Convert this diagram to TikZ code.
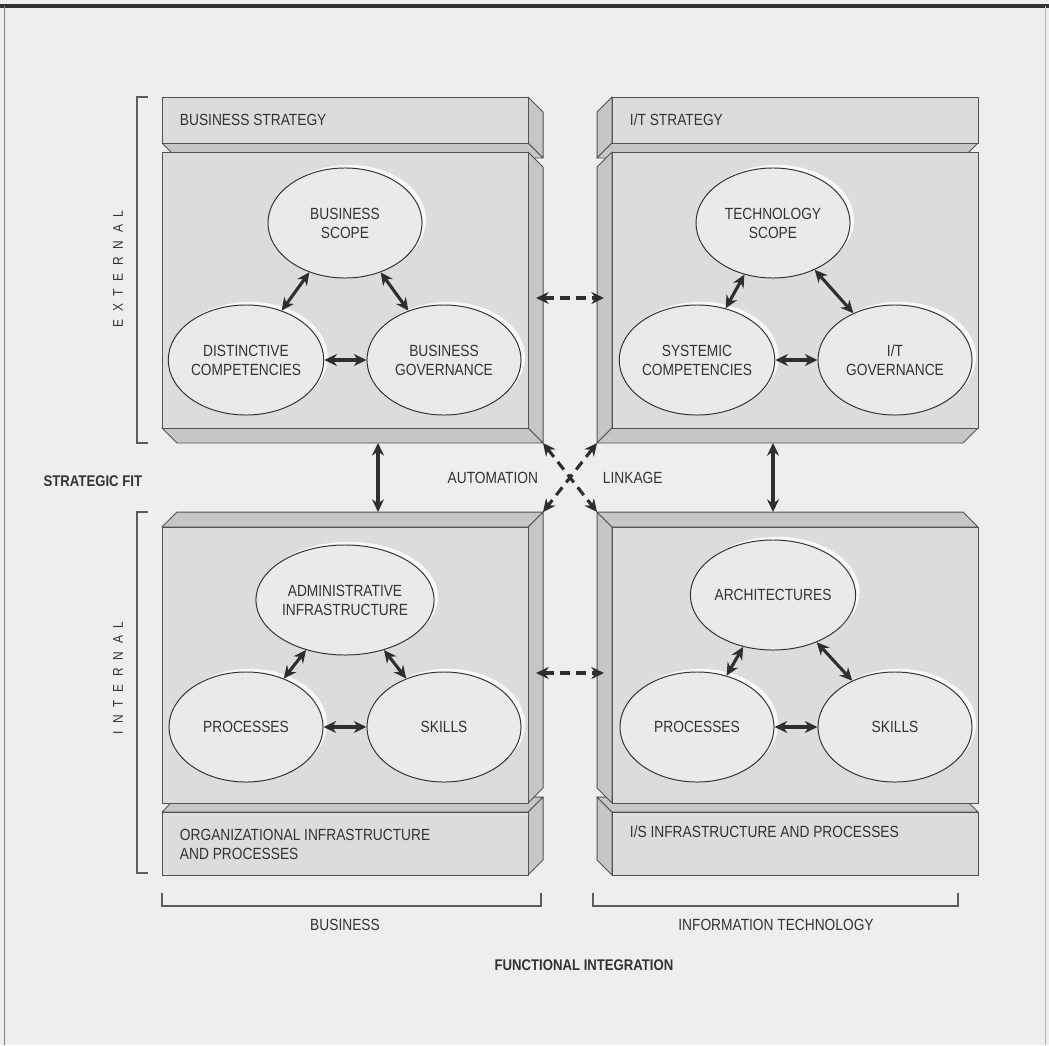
\documentclass[tikz,border=0pt]{standalone}
\usepackage{fontspec}
\setmainfont{Liberation Sans}[FakeStretch=0.85]
\usetikzlibrary{arrows.meta,shapes.geometric,shadows}
\definecolor{paper}{HTML}{EEEEEE}
\definecolor{face}{HTML}{DCDCDC}
\definecolor{bevel}{HTML}{C6C6C6}
\definecolor{oval}{HTML}{EAEAEA}
\definecolor{ink}{HTML}{333333}
\begin{document}
\begin{tikzpicture}[x=0.025cm,y=-0.025cm,
  font=\fontsize{11.5}{13.5}\selectfont, text=ink,
  front/.style={fill=face,draw=ink!85,line width=0.7pt},
  side/.style={fill=bevel,draw=ink!85,line width=0.7pt,line join=round},
  oval/.style={ellipse,draw=ink,line width=0.7pt,fill=oval,inner sep=0pt,
    minimum width=3.85cm,minimum height=2.75cm,align=center,
    drop shadow={shadow xshift=0.1cm,shadow yshift=0.08cm,fill=white,opacity=0.8}},
  both/.style={{Stealth[length=9pt,width=8.5pt]}-{Stealth[length=9pt,width=8.5pt]},
    line width=2.2pt,draw=ink!90!black},
  dashboth/.style={both,dash pattern=on 7pt off 4.5pt},
  bracket/.style={draw=ink!80,line width=0.8pt}]
  \useasboundingbox (0,0) rectangle (1049,1045);
  \fill[paper] (0,0) rectangle (1049,1045);
  % frame
  \draw[line width=3pt,ink] (0,6) -- (1049,6);
  \draw[line width=0.6pt,gray] (4,6) -- (4,1045);
  \draw[line width=0.5pt,gray!60] (1045,6) -- (1045,1045);

  % Business strategy (top left)
  \filldraw[side] (528,97) -- (543,112) -- (543,158) -- (528,143) -- cycle;
  \filldraw[side] (162,143) -- (528,143) -- (543,158) -- (177,158) -- cycle;
  \filldraw[front] (162,97) rectangle (528,143);
  \filldraw[side] (528,152) -- (543,167) -- (543,443) -- (528,428) -- cycle;
  \filldraw[side] (162,428) -- (528,428) -- (543,443) -- (177,443) -- cycle;
  \filldraw[front] (162,152) rectangle (528,428);

  % I/T strategy (top right)
  \filldraw[side] (612,97) -- (597,112) -- (597,158) -- (612,143) -- cycle;
  \filldraw[side] (612,143) -- (978,143) -- (963,158) -- (597,158) -- cycle;
  \filldraw[front] (612,97) rectangle (978,143);
  \filldraw[side] (612,152) -- (597,167) -- (597,443) -- (612,428) -- cycle;
  \filldraw[side] (612,428) -- (978,428) -- (963,443) -- (597,443) -- cycle;
  \filldraw[front] (612,152) rectangle (978,428);

  % Organizational infrastructure (bottom left)
  \filldraw[side] (528,812) -- (543,797) -- (543,860) -- (528,875) -- cycle;
  \filldraw[side] (162,812) -- (528,812) -- (543,797) -- (177,797) -- cycle;
  \filldraw[front] (162,812) rectangle (528,875);
  \filldraw[side] (528,527) -- (543,512) -- (543,788) -- (528,803) -- cycle;
  \filldraw[side] (162,527) -- (528,527) -- (543,512) -- (177,512) -- cycle;
  \filldraw[front] (162,527) rectangle (528,803);

  % I/S infrastructure (bottom right)
  \filldraw[side] (612,812) -- (597,797) -- (597,860) -- (612,875) -- cycle;
  \filldraw[side] (612,812) -- (978,812) -- (963,797) -- (597,797) -- cycle;
  \filldraw[front] (612,812) rectangle (978,875);
  \filldraw[side] (612,527) -- (597,512) -- (597,788) -- (612,803) -- cycle;
  \filldraw[side] (612,527) -- (978,527) -- (963,512) -- (597,512) -- cycle;
  \filldraw[front] (612,527) rectangle (978,803);

  % bar labels
  \node[anchor=west] (bstrat) at (175,120) {BUSINESS STRATEGY};
  \node[anchor=west] (itstrat) at (625,120) {I/T STRATEGY};
  \node[anchor=west,align=left] (orginfra) at (175,844) {ORGANIZATIONAL INFRASTRUCTURE\\AND PROCESSES};
  \node[anchor=west] (isinfra) at (625,832) {I/S INFRASTRUCTURE AND PROCESSES};

  % ovals
  \node[oval] (bscope) at (345,223) {BUSINESS\\SCOPE};
  \node[oval] (dcomp) at (246,360) {DISTINCTIVE\\COMPETENCIES};
  \node[oval] (bgov) at (444,360) {BUSINESS\\GOVERNANCE};
  \node[oval] (tscope) at (773,223) {TECHNOLOGY\\SCOPE};
  \node[oval] (scomp) at (697,360) {SYSTEMIC\\COMPETENCIES};
  \node[oval] (itgov) at (895,360) {I/T\\GOVERNANCE};
  \node[oval] (admin) at (345,600) {ADMINISTRATIVE\\INFRASTRUCTURE};
  \node[oval] (oproc) at (246,727) {PROCESSES};
  \node[oval] (oskill) at (444,727) {SKILLS};
  \node[oval] (arch) at (773,595) {ARCHITECTURES};
  \node[oval] (iproc) at (697,727) {PROCESSES};
  \node[oval] (iskill) at (895,727) {SKILLS};

  % links inside the boxes
  \draw[both] (bscope) -- (dcomp);
  \draw[both] (bscope) -- (bgov);
  \draw[both] (dcomp) -- (bgov);
  \draw[both] (tscope) -- (scomp);
  \draw[both] (tscope) -- (itgov);
  \draw[both] (scomp) -- (itgov);
  \draw[both] (admin) -- (oproc);
  \draw[both] (admin) -- (oskill);
  \draw[both] (oproc) -- (oskill);
  \draw[both] (arch) -- (iproc);
  \draw[both] (arch) -- (iskill);
  \draw[both] (iproc) -- (iskill);

  % links between the boxes
  \coordinate (tlbot) at (378,443);
  \coordinate (bltop) at (378,512);
  \coordinate (trbot) at (773,443);
  \coordinate (brtop) at (773,512);
  \coordinate (tlside) at (536,298);
  \coordinate (trside) at (604,298);
  \coordinate (blside) at (536,673);
  \coordinate (brside) at (604,673);
  \coordinate (tlcorner) at (543,443);
  \coordinate (trcorner) at (597,443);
  \coordinate (blcorner) at (543,512);
  \coordinate (brcorner) at (597,512);
  \draw[both] (tlbot) -- (bltop);
  \draw[both] (trbot) -- (brtop);
  \draw[dashboth] (tlside) -- (trside);
  \draw[dashboth] (blside) -- (brside);
  \draw[dashboth] (tlcorner) -- (brcorner);
  \draw[dashboth] (trcorner) -- (blcorner);
  \node[anchor=east] (auto) at (543,478) {AUTOMATION};
  \node[anchor=west] (link) at (598,478) {LINKAGE};

  % brackets and axis labels
  \draw[bracket] (148,97) -- (137,97) -- (137,443) -- (148,443);
  \draw[bracket] (148,512) -- (137,512) -- (137,873) -- (148,873);
  \draw[bracket] (162,893) -- (162,906) -- (541,906) -- (541,893);
  \draw[bracket] (593,893) -- (593,906) -- (958,906) -- (958,893);
  \node[rotate=90,font=\fontsize{10}{12}\selectfont\addfontfeature{LetterSpace=55}] (ext) at (118,269) {EXTERNAL};
  \node[rotate=90,font=\fontsize{10}{12}\selectfont\addfontfeature{LetterSpace=55}] (int) at (118,678) {INTERNAL};
  \node[anchor=east,font=\fontsize{11}{13}\bfseries] (fit) at (147,481) {STRATEGIC FIT};
  \node (bus) at (345,925) {BUSINESS};
  \node (itech) at (776,925) {INFORMATION TECHNOLOGY};
  \node[font=\fontsize{11}{13}\bfseries] (integ) at (584,965) {FUNCTIONAL INTEGRATION};
\end{tikzpicture}
\end{document}
